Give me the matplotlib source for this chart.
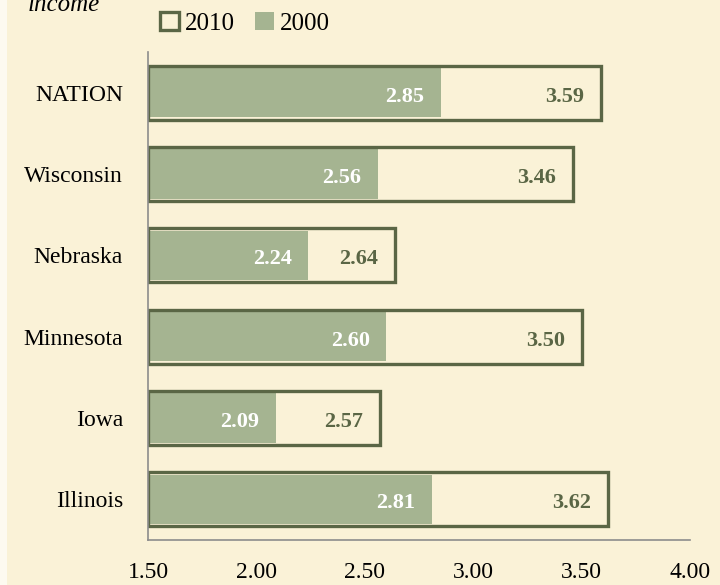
import matplotlib.pyplot as plt
from matplotlib.patches import Rectangle, Patch

# data
states = ["Illinois", "Iowa", "Minnesota", "Nebraska", "Wisconsin", "NATION"]
v2010 = [3.62, 2.57, 3.50, 2.64, 3.46, 3.59]
v2000 = [2.81, 2.09, 2.60, 2.24, 2.56, 2.85]
xticks = [1.50, 2.00, 2.50, 3.00, 3.50, 4.00]

bg = "#FAF2D7"
green = "#A5B491"
dark = "#5A6645"

plt.rcParams["font.family"] = ["Liberation Serif", "DejaVu Serif"]

fig = plt.figure(figsize=(7.2, 5.85), dpi=100, facecolor=bg)
fig.patches.append(Rectangle((0, 0), 7 / 720, 1, transform=fig.transFigure,
                             facecolor="#FDFAF0", edgecolor="none", zorder=0))
ax = fig.add_axes([148 / 720, 45 / 585, 542 / 720, 488 / 585])
ax.set_facecolor(bg)

base = 1.5
h = 0.66
y = range(len(states))

ax.barh(y, [v - base for v in v2000], left=base, height=h - 0.05,
        color=green, edgecolor="none", zorder=1)
ax.barh(y, [v - base for v in v2010], left=base, height=h,
        facecolor="none", edgecolor=dark, linewidth=2.4, zorder=2)

for i in y:
    ax.annotate(f"{v2000[i]:.2f}", (v2000[i], i), xytext=(-12, -1),
                textcoords="offset points", ha="right", va="center_baseline",
                color="white", fontsize=16, fontweight="bold")
    ax.annotate(f"{v2010[i]:.2f}", (v2010[i], i), xytext=(-12, -1),
                textcoords="offset points", ha="right", va="center_baseline",
                color=dark, fontsize=16, fontweight="bold")

ax.set_xlim(1.5, 4.0)
ax.set_ylim(-0.5, len(states) - 0.5)
ax.set_xticks(xticks)
ax.set_xticklabels([f"{t:.2f}" for t in xticks], fontsize=17)
ax.set_yticks(list(y))
ax.set_yticklabels(states, fontsize=17)
ax.tick_params(axis="x", length=0, pad=16)
ax.tick_params(axis="y", length=0, pad=18)

for s in ["top", "right"]:
    ax.spines[s].set_visible(False)
for s in ["left", "bottom"]:
    ax.spines[s].set_color("#8C8C8C")
    ax.spines[s].set_linewidth(1.2)
    ax.spines[s].set_zorder(3)

handles = [Patch(facecolor=bg, edgecolor=dark, linewidth=2.4, label="2010"),
           Patch(facecolor=green, edgecolor="none", label="2000")]
fig.legend(handles=handles, loc="upper left", bbox_to_anchor=(150 / 720, 1 - 2 / 585),
           ncol=2, frameon=False, fontsize=18, handlelength=0.75, handleheight=0.75,
           handletextpad=0.25, columnspacing=0.8, borderaxespad=0)

fig.text(28 / 720, 1 - 11 / 585, "income", fontsize=18, fontstyle="italic",
         ha="left", va="baseline")

fig.savefig("out.png", dpi=100, facecolor=bg)
